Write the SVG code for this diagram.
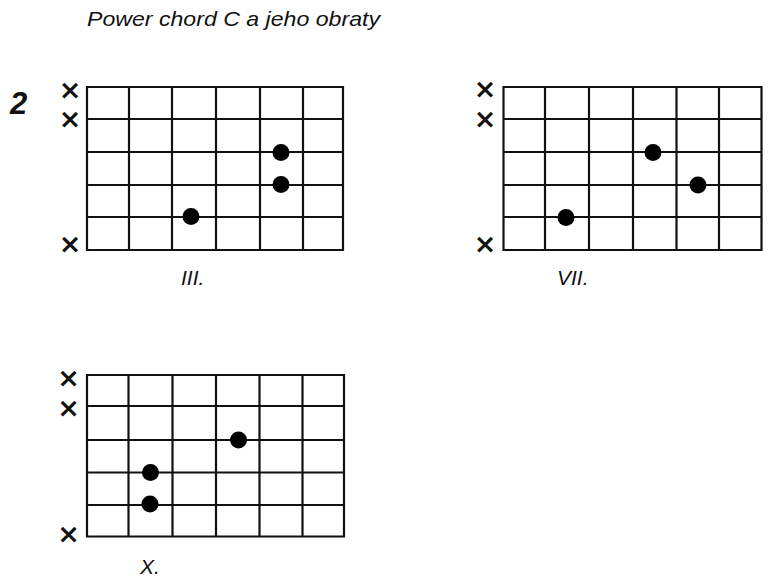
<svg xmlns="http://www.w3.org/2000/svg" width="770" height="581" viewBox="0 0 770 581">
<style>
.grid{fill:none;stroke:#111;stroke-width:2.2;stroke-linecap:square}
.dot{fill:#000}
.mute{font-family:"DejaVu Sans",sans-serif;font-weight:bold;font-size:27px;fill:#111;text-anchor:middle;dominant-baseline:central}
.lbl{font-family:"Liberation Sans",Arial,sans-serif;font-style:italic;font-size:21px;fill:#111}
</style>
<rect width="770" height="581" fill="#fff"/>
<text x="87" y="26" class="lbl" font-size="20" textLength="293" lengthAdjust="spacingAndGlyphs">Power chord C a jeho obraty</text>
<text x="10" y="114" font-family="Liberation Sans,Arial,sans-serif" font-weight="bold" font-style="italic" font-size="31" fill="#111">2</text>
<g id="chord1">
<path class="grid" d="M87 87H343V250H87Z M129 87V250 M172 87V250 M216 87V250 M260 87V250 M303 87V250 M87 119H343 M87 152H343 M87 185H343 M87 217H343"/>
<circle class="dot" cx="281" cy="152.5" r="8.5"/>
<circle class="dot" cx="281" cy="184.5" r="8.5"/>
<circle class="dot" cx="191" cy="216.5" r="8.5"/>
<text class="mute" x="70" y="89">×</text>
<text class="mute" x="70" y="118">×</text>
<text class="mute" x="70" y="243">×</text>
<text class="lbl" x="181" y="285">III.</text>
</g>
<g id="chord2">
<path class="grid" d="M503.5 87H761.5V250H503.5Z M545 87V250 M589 87V250 M633 87V250 M676.5 87V250 M719 87V250 M503.5 119H761.5 M503.5 152H761.5 M503.5 185H761.5 M503.5 217H761.5"/>
<circle class="dot" cx="653" cy="152.5" r="8.5"/>
<circle class="dot" cx="698" cy="185" r="8.5"/>
<circle class="dot" cx="566" cy="217.5" r="8.5"/>
<text class="mute" x="485" y="88.5">×</text>
<text class="mute" x="485" y="118.5">×</text>
<text class="mute" x="485" y="243.5">×</text>
<text class="lbl" x="557" y="285">VII.</text>
</g>
<g id="chord3">
<path class="grid" d="M87 375H344V536.5H87Z M128.5 375V536.5 M172.5 375V536.5 M216 375V536.5 M259.5 375V536.5 M302.5 375V536.5 M87 406H344 M87 440H344 M87 472.5H344 M87 505H344"/>
<circle class="dot" cx="238.5" cy="440" r="8.5"/>
<circle class="dot" cx="150.5" cy="472.5" r="8.5"/>
<circle class="dot" cx="150" cy="504" r="8.5"/>
<text class="mute" x="68.5" y="377.5">×</text>
<text class="mute" x="68.5" y="407.5">×</text>
<text class="mute" x="68.5" y="533">×</text>
<text class="lbl" x="140" y="574">X.</text>
</g>
</svg>
